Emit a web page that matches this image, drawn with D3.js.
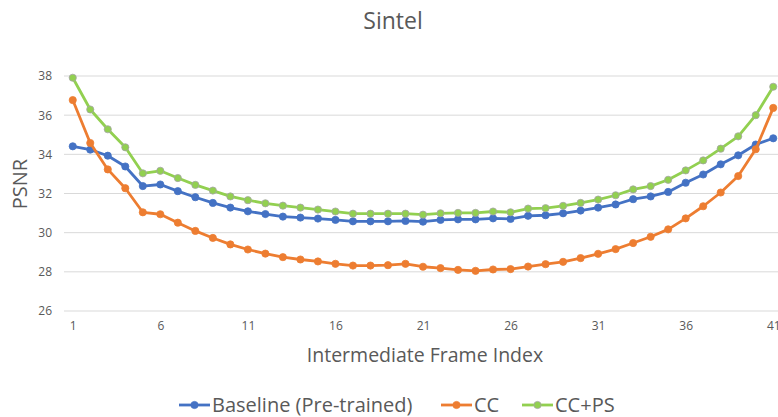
<!DOCTYPE html>
<html>
<head>
<meta charset="utf-8">
<script src="https://cdn.jsdelivr.net/npm/d3@7"></script>
<style>
  body { margin: 0; background: #fff; }
  text { font-family: "Open Sans", sans-serif; fill: #595959; }
</style>
</head>
<body>
<div id="chart"></div>
<script>
const frames = d3.range(1, 42);
const xTicks = [1, 6, 11, 16, 21, 26, 31, 36, 41];
const yTicks = [26, 28, 30, 32, 34, 36, 38];

const baseline = [34.41, 34.24, 33.93, 33.38, 32.38, 32.46, 32.12, 31.81, 31.52, 31.28,
  31.09, 30.95, 30.82, 30.77, 30.72, 30.65, 30.58, 30.58, 30.58, 30.60,
  30.56, 30.65, 30.68, 30.68, 30.73, 30.70, 30.86, 30.89, 30.99, 31.13,
  31.28, 31.44, 31.71, 31.85, 32.08, 32.55, 32.97, 33.49, 33.95, 34.50, 34.82];

const cc = [36.77, 34.58, 33.23, 32.27, 31.04, 30.94, 30.51, 30.09, 29.73, 29.40,
  29.14, 28.93, 28.75, 28.63, 28.53, 28.41, 28.32, 28.32, 28.34, 28.41,
  28.26, 28.19, 28.10, 28.05, 28.12, 28.14, 28.27, 28.39, 28.51, 28.70,
  28.92, 29.16, 29.47, 29.79, 30.17, 30.73, 31.35, 32.05, 32.89, 34.26, 36.37];

const ccps = [37.91, 36.29, 35.28, 34.36, 33.03, 33.16, 32.79, 32.44, 32.15, 31.85,
  31.66, 31.50, 31.38, 31.28, 31.18, 31.08, 30.97, 30.97, 30.97, 30.97,
  30.92, 30.99, 31.01, 31.01, 31.08, 31.04, 31.23, 31.25, 31.37, 31.52,
  31.69, 31.91, 32.21, 32.38, 32.70, 33.18, 33.69, 34.29, 34.92, 36.00, 37.45];

const seriesNames = ["Baseline (Pre-trained)", "CC", "CC+PS"];
const seriesValues = [baseline, cc, ccps];
const colors = ["#4472C4", "#ED7D31", "#92D050"];
const markerStroke = ["#4472C4", "#ED7D31", "#A5A5A5"];

const W = 778, H = 417;
const margin = { top: 76, right: -4, bottom: 106, left: 64 };
const width = W - margin.left - margin.right;
const height = H - margin.top - margin.bottom;

const svg = d3.select("#chart").append("svg")
  .attr("width", W)
  .attr("height", H);

const g = svg.append("g")
  .attr("transform", "translate(" + margin.left + "," + margin.top + ")");

const x = d3.scaleLinear().domain([0.5, 41.5]).range([0, width]);
const y = d3.scaleLinear().domain([26, 38]).range([height, 0]);

// gridlines
g.append("g")
  .selectAll("line")
  .data(yTicks)
  .join("line")
  .attr("x1", 0)
  .attr("x2", width)
  .attr("y1", d => y(d))
  .attr("y2", d => y(d))
  .attr("stroke", "#D9D9D9")
  .attr("stroke-width", 1);

// y axis labels
const yAxis = g.append("g")
  .call(d3.axisLeft(y).tickValues(yTicks).tickSize(0).tickPadding(12));
yAxis.select(".domain").remove();
yAxis.selectAll("text").style("font-size", "12px").attr("fill", "#595959");

// x axis labels
const xAxis = g.append("g")
  .attr("transform", "translate(0," + height + ")")
  .call(d3.axisBottom(x).tickValues(xTicks).tickSize(0).tickPadding(10).tickFormat(d3.format("d")));
xAxis.select(".domain").remove();
xAxis.selectAll("text").style("font-size", "12px").attr("fill", "#595959");

const line = d3.line()
  .x((d, i) => x(frames[i]))
  .y(d => y(d));

seriesValues.forEach((vals, s) => {
  g.append("path")
    .datum(vals)
    .attr("fill", "none")
    .attr("stroke", colors[s])
    .attr("stroke-width", 2.8)
    .attr("stroke-linejoin", "round")
    .attr("d", line);
  g.append("g")
    .selectAll("circle")
    .data(vals)
    .join("circle")
    .attr("cx", (d, i) => x(frames[i]))
    .attr("cy", d => y(d))
    .attr("r", 3.6)
    .attr("fill", colors[s])
    .attr("stroke", markerStroke[s])
    .attr("stroke-width", 0.8);
});

// title
svg.append("text")
  .attr("x", 393)
  .attr("y", 29)
  .attr("text-anchor", "middle")
  .style("font-size", "23px")
  .text("Sintel");

// axis titles
svg.append("text")
  .attr("transform", "translate(27,184) rotate(-90)")
  .attr("text-anchor", "middle")
  .style("font-size", "20px")
  .text("PSNR");

svg.append("text")
  .attr("x", 425)
  .attr("y", 362)
  .attr("text-anchor", "middle")
  .style("font-size", "19.5px")
  .text("Intermediate Frame Index");

// legend
const legendX = [179, 441, 522];
const legend = svg.append("g");
seriesNames.forEach((name, s) => {
  const lg = legend.append("g").attr("transform", "translate(" + legendX[s] + ",405)");
  lg.append("line")
    .attr("x1", 0).attr("x2", 31)
    .attr("y1", 0).attr("y2", 0)
    .attr("stroke", colors[s])
    .attr("stroke-width", 2.8);
  lg.append("circle")
    .attr("cx", 15.5).attr("cy", 0).attr("r", 3.6)
    .attr("fill", colors[s])
    .attr("stroke", markerStroke[s])
    .attr("stroke-width", 0.8);
  lg.append("text")
    .attr("x", 33)
    .attr("y", 0)
    .attr("dy", "0.35em")
    .style("font-size", "20px")
    .text(name);
});
</script>
</body>
</html>
